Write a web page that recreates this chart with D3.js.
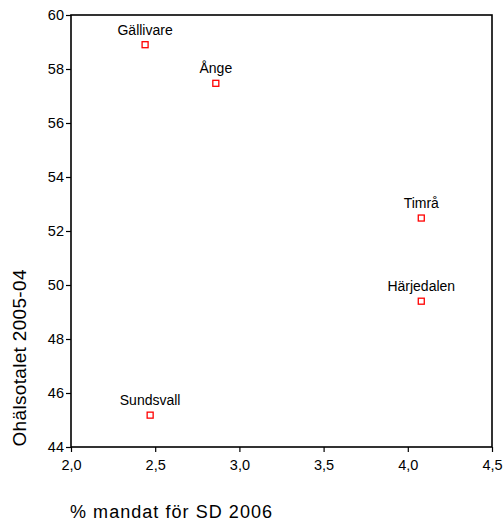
<!DOCTYPE html>
<html><head><meta charset="utf-8">
<script src="https://cdn.jsdelivr.net/npm/d3@7"></script>
<style>body{margin:0;background:#fff}svg{display:block}</style>
</head><body>
<svg id="c" width="504" height="525"></svg>
<script>
const names = ["Gällivare","Ånge","Timrå","Härjedalen","Sundsvall"];
const xVals = [2.44, 2.86, 4.08, 4.08, 2.47];
const yVals = [58.9, 57.47, 52.48, 49.4, 45.18];
const xTicks = [2.0,2.5,3.0,3.5,4.0,4.5];
const yTicks = [44,46,48,50,52,54,56,58,60];

const svg = d3.select("#c");
const font = "Liberation Sans, Arial, sans-serif";
const L=71, R=492, T=15, B=447;
const x = d3.scaleLinear().domain([2,4.5]).range([L,R]);
const y = d3.scaleLinear().domain([44,60]).range([B,T]);

svg.append("rect").attr("x",L).attr("y",T).attr("width",R-L).attr("height",B-T)
  .attr("fill","none").attr("stroke","#000").attr("stroke-width",1.6);

const xa = svg.append("g").attr("transform",`translate(0,${B})`)
  .call(d3.axisBottom(x).tickValues(xTicks).tickSize(5).tickFormat(d=>d3.format(".1f")(d).replace(".",",")));
const ya = svg.append("g").attr("transform",`translate(${L},0)`)
  .call(d3.axisLeft(y).tickValues(yTicks).tickSize(5).tickFormat(d3.format("d")));
[xa,ya].forEach(a=>{
  a.select(".domain").remove();
  a.selectAll("line").attr("stroke","#000").attr("stroke-width",1.2);
  a.selectAll("text").attr("font-family",font).attr("font-size",14.5).attr("fill","#000");
});
xa.selectAll("text").attr("y",10).attr("dy","0.9em");
ya.selectAll("text").attr("x",-7);

const g = svg.append("g");
names.forEach((n,i)=>{
  g.append("rect").attr("x",x(xVals[i])-3).attr("y",y(yVals[i])-3).attr("width",6).attr("height",6)
   .attr("fill","#fff").attr("stroke","#f00").attr("stroke-width",1.3);
  g.append("text").attr("x",x(xVals[i])).attr("y",y(yVals[i])-10).attr("text-anchor","middle")
   .attr("font-family",font).attr("font-size",14).text(n);
});

svg.append("text").attr("x",70).attr("y",518).attr("font-family",font).attr("font-size",18)
  .attr("textLength",202).attr("lengthAdjust","spacing").text("% mandat för SD 2006");
svg.append("text").attr("transform","translate(26,358) rotate(-90)").attr("text-anchor","middle")
  .attr("font-family",font).attr("font-size",19).attr("textLength",177).attr("lengthAdjust","spacing")
  .text("Ohälsotalet 2005-04");
</script>
</body></html>
